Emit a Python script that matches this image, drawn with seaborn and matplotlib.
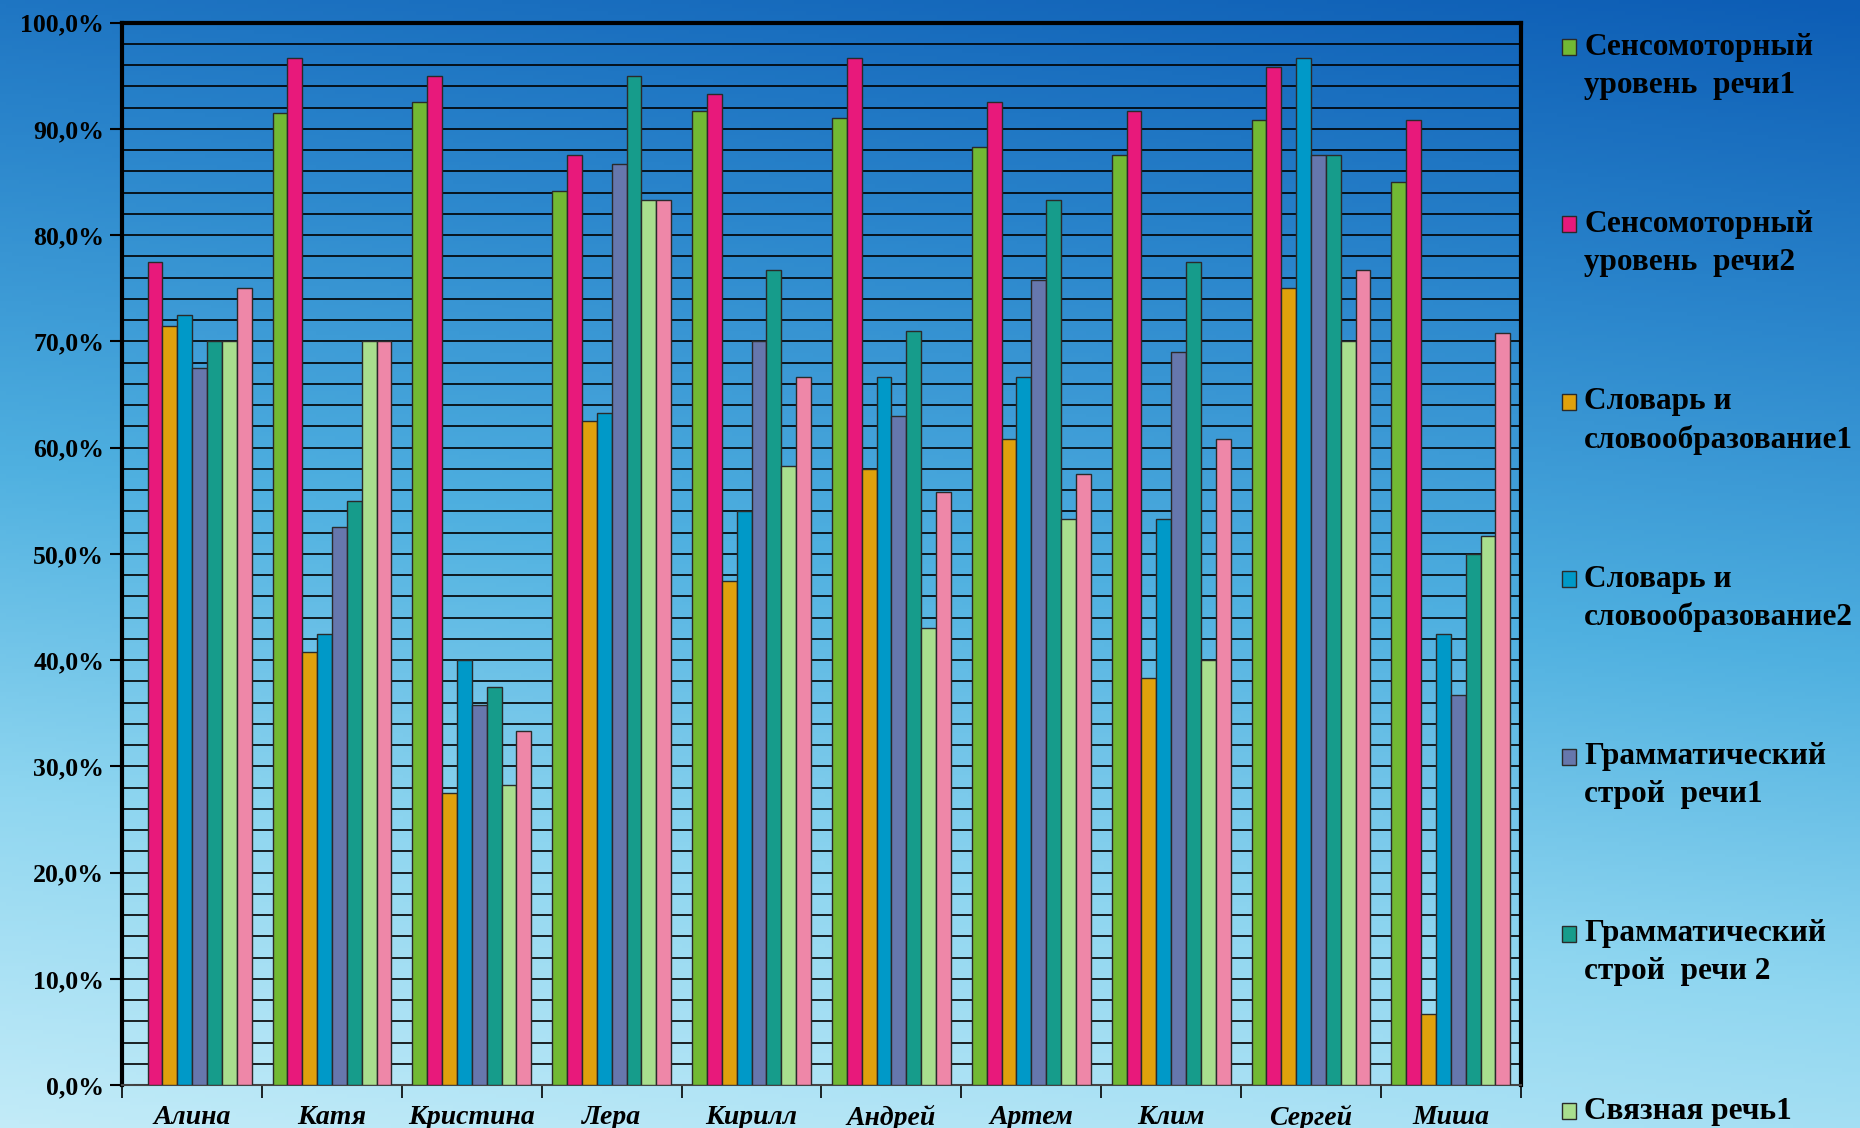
import numpy as np
import pandas as pd
import matplotlib
matplotlib.use("Agg")
import matplotlib.pyplot as plt
import seaborn as sns
from matplotlib.colors import LinearSegmentedColormap
from matplotlib.patches import Rectangle
from matplotlib.ticker import FuncFormatter, MultipleLocator, FixedLocator

# data (percent)
children = ["Алина", "Катя", "Кристина", "Лера", "Кирилл",
            "Андрей", "Артем", "Клим", "Сергей", "Миша"]
series = ["Сенсомоторный\nуровень  речи1", "Сенсомоторный\nуровень  речи2",
          "Словарь и\nсловообразование1", "Словарь и\nсловообразование2",
          "Грамматический\nстрой  речи1", "Грамматический\nстрой  речи 2",
          "Связная речь1", "Связная речь2"]
sensor1 = [0.0, 91.5, 92.5, 84.2, 91.7, 91.0, 88.3, 87.5, 90.8, 85.0]
sensor2 = [77.5, 96.7, 95.0, 87.5, 93.3, 96.7, 92.5, 91.7, 95.8, 90.8]
vocab1 = [71.5, 40.8, 27.5, 62.5, 47.5, 58.0, 60.8, 38.3, 75.0, 6.7]
vocab2 = [72.5, 42.5, 40.0, 63.3, 54.0, 66.7, 66.7, 53.3, 96.7, 42.5]
gram1 = [67.5, 52.5, 35.8, 86.7, 70.0, 63.0, 75.8, 69.0, 87.5, 36.7]
gram2 = [70.0, 55.0, 37.5, 95.0, 76.7, 71.0, 83.3, 77.5, 87.5, 50.0]
speech1 = [70.0, 70.0, 28.3, 83.3, 58.3, 43.0, 53.3, 40.0, 70.0, 51.7]
speech2 = [75.0, 70.0, 33.3, 83.3, 66.7, 55.8, 57.5, 60.8, 76.7, 70.8]
colors = ["#72b934", "#e8197b", "#e0a10c", "#0099c8",
          "#6677ad", "#169c8b", "#a9de8e", "#ee87a8"]

values = [sensor1, sensor2, vocab1, vocab2, gram1, gram2, speech1, speech2]
df = pd.DataFrame({
    "child": children * len(series),
    "series": [s for s in series for _ in children],
    "value": [v for vals in values for v in vals],
})

W, H = 1860, 1128
fig = plt.figure(figsize=(W / 100, H / 100), dpi=100)

# gradient background
bg = fig.add_axes([0, 0, 1, 1], zorder=-10)
yy, xx = np.mgrid[0:1:300j, 0:1:300j]
t = np.clip(yy * 0.85 + (1 - xx) * 0.15, 0, 1)
cmap = LinearSegmentedColormap.from_list(
    "bg", ["#0d5db5", "#2b86cc", "#4fb0e0", "#8fd6f0", "#c2ebf8"])
bg.imshow(t, cmap=cmap, aspect="auto", extent=[0, 1, 0, 1], origin="upper")
bg.axis("off")

ax = fig.add_axes([0.0657, 0.0379, 0.7519, 0.942])
ax.patch.set_alpha(0)

sns.barplot(data=df, x="child", y="value", hue="series", palette=colors,
            width=0.85, saturation=1, errorbar=None, edgecolor="#2a2a2a",
            linewidth=1.0, ax=ax, zorder=3, legend=False)

ax.set_ylim(0, 100)
ax.set_xlim(-0.5, len(children) - 0.5)
ax.yaxis.set_major_locator(MultipleLocator(10))
ax.yaxis.set_minor_locator(MultipleLocator(2))
ax.yaxis.set_major_formatter(FuncFormatter(lambda v, p: f"{v:.1f}%".replace(".", ",")))
ax.grid(axis="y", which="both", color="black", linewidth=1.2, zorder=0)
ax.set_axisbelow(True)
ax.xaxis.set_minor_locator(FixedLocator(np.arange(len(children) + 1) - 0.5))
ax.tick_params(axis="y", which="major", direction="out", length=9, width=1.5,
               labelsize=18.5, pad=4)
ax.tick_params(axis="y", which="minor", length=0)
ax.tick_params(axis="x", which="major", length=0, pad=14)
ax.tick_params(axis="x", which="minor", direction="out", length=9, width=1.2)
for lab in ax.get_yticklabels():
    lab.set_fontfamily("Liberation Serif")
    lab.set_fontweight("bold")
for lab in ax.get_xticklabels():
    lab.set_fontfamily("Liberation Serif")
    lab.set_fontweight("bold")
    lab.set_fontstyle("italic")
    lab.set_fontsize(20)
ax.set_xlabel("")
ax.set_ylabel("")
for side in ["left", "top", "right"]:
    ax.spines[side].set_linewidth(3)
    ax.spines[side].set_color("black")
ax.spines["bottom"].set_linewidth(1.5)
ax.spines["bottom"].set_color("#444444")

# legend on the right (the last entry falls below the picture, as in the original)
for i, (lab, col) in enumerate(zip(series, colors)):
    top_px = 39 + 177.4 * i
    if top_px + 16 > H:
        continue
    y_top = 1 - top_px / H
    fig.patches.append(Rectangle((1562 / W, y_top - 16 / H), 14 / W, 16 / H,
                                 transform=fig.transFigure, facecolor=col,
                                 edgecolor="#2a2a2a", linewidth=1))
    for j, line in enumerate(lab.split("\n")):
        fig.text(1584 / W, y_top - 8 / H - j * 38 / H, line, ha="left", va="center",
                 family="Liberation Serif", weight="bold", fontsize=22.5)

fig.savefig("out.png", dpi=100)
